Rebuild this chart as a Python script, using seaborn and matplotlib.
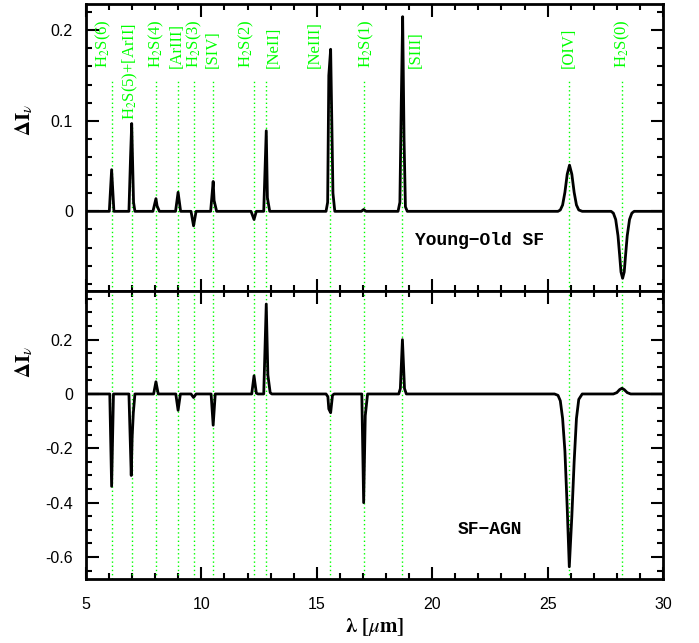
import matplotlib
matplotlib.use("Agg")
import matplotlib.pyplot as plt
import matplotlib.transforms as mtrans
from matplotlib.ticker import MultipleLocator, FormatStrFormatter
import seaborn as sns
import pandas as pd

# ---------------- data ----------------
line_names = [r"H$_2$S(6)", r"H$_2$S(5)+[ArII]", r"H$_2$S(4)", "[ArIII]", r"H$_2$S(3)",
              "[SIV]", r"H$_2$S(2)", "[NeII]", "[NeIII]", r"H$_2$S(1)", "[SIII]",
              "[OIV]", r"H$_2$S(0)"]
line_wl = [6.11, 6.98, 8.03, 8.99, 9.66, 10.51, 12.28, 12.81, 15.56, 17.03, 18.71, 25.93, 28.22]
label_x = [5.76, 6.92, 8.03, 8.92, 9.68, 10.50, 11.93, 13.15, 14.92, 17.13, 19.30, 25.93, 28.22]

wl_young_old = [5.0, 6.01, 6.11, 6.21, 6.86, 6.93, 6.98, 7.06, 7.12, 7.90, 8.03, 8.08, 8.18,
                8.88, 8.99, 9.10, 9.55, 9.66, 9.77, 10.40, 10.51, 10.55, 10.66,
                12.15, 12.28, 12.38, 12.70, 12.81, 12.86, 12.96,
                15.40, 15.47, 15.52, 15.60, 15.70, 15.78, 16.93, 17.03, 17.13,
                18.52, 18.60, 18.66, 18.72, 18.78, 18.84, 18.92,
                25.45, 25.55, 25.65, 25.75, 25.85, 25.95, 26.05, 26.15, 26.25, 26.35, 26.50,
                27.75, 27.85, 27.95, 28.05, 28.12, 28.18, 28.25, 28.32, 28.38, 28.45,
                28.55, 28.65, 28.75, 30.0]
dI_young_old = [0.0, 0.0, 0.046, 0.0, 0.0, 0.06, 0.097, 0.01, 0.0, 0.0, 0.014, 0.006, 0.0,
                0.0, 0.021, 0.0, 0.0, -0.016, 0.0, 0.0, 0.033, 0.012, 0.0,
                0.0, -0.009, 0.0, 0.0, 0.089, 0.015, 0.0,
                0.0, 0.01, 0.15, 0.179, 0.02, 0.0, 0.0, 0.002, 0.0,
                0.0, 0.01, 0.12, 0.215, 0.08, 0.005, 0.0,
                0.0, 0.0015, 0.007, 0.021, 0.041, 0.051, 0.041, 0.021, 0.007, 0.0015, 0.0,
                0.0, -0.002, -0.009, -0.027, -0.048, -0.067, -0.074, -0.067, -0.048, -0.027,
                -0.009, -0.002, 0.0, 0.0]

wl_sf_agn = [5.0, 6.03, 6.11, 6.19, 6.86, 6.96, 7.00, 7.05, 7.12, 7.93, 8.03, 8.13,
             8.89, 8.99, 9.09, 9.55, 9.66, 9.77, 10.42, 10.51, 10.60,
             12.18, 12.28, 12.38, 12.45, 12.70, 12.81, 12.88, 12.98, 13.05,
             15.40, 15.48, 15.52, 15.60, 15.68, 15.75,
             16.95, 17.03, 17.10, 17.20,
             18.55, 18.62, 18.71, 18.80, 18.88,
             25.30, 25.45, 25.55, 25.65, 25.75, 25.85, 25.94, 26.05, 26.15, 26.25, 26.35, 26.50,
             27.85, 28.00, 28.12, 28.22, 28.32, 28.45, 28.60, 30.0]
dI_sf_agn = [0.0, 0.0, -0.34, 0.0, 0.0, -0.30, -0.16, -0.07, 0.0, 0.0, 0.045, 0.0,
             0.0, -0.06, 0.0, 0.0, -0.013, 0.0, 0.0, -0.115, 0.0,
             0.0, 0.067, 0.003, 0.0, 0.0, 0.331, 0.07, 0.005, 0.0,
             0.0, -0.01, -0.055, -0.069, -0.005, 0.0,
             0.0, -0.40, -0.08, 0.0,
             0.0, 0.02, 0.20, 0.02, 0.0,
             0.0, -0.005, -0.025, -0.09, -0.21, -0.42, -0.636, -0.45, -0.25, -0.09, -0.02, 0.0,
             0.0, 0.005, 0.016, 0.021, 0.016, 0.005, 0.0, 0.0]

panel_titles = ["Young\u2212Old SF", "SF\u2212AGN"]

# ---------------- style ----------------
sns.set_style("ticks", {"axes.edgecolor": "black", "xtick.color": "black",
                        "ytick.color": "black", "text.color": "black",
                        "axes.labelcolor": "black"})
plt.rcParams["font.family"] = ["Liberation Sans", "DejaVu Sans"]
plt.rcParams["mathtext.fontset"] = "stix"
plt.rcParams["axes.unicode_minus"] = False

GREEN = "#00ff00"

fig = plt.figure(figsize=(6.99, 6.43), dpi=100)
ax1 = fig.add_axes([86 / 699, 1 - 291 / 643, 577 / 699, 287 / 643])
ax2 = fig.add_axes([86 / 699, 1 - 579 / 643, 577 / 699, 288 / 643], sharex=ax1)

df1 = pd.DataFrame({"wl": wl_young_old, "dI": dI_young_old})
df2 = pd.DataFrame({"wl": wl_sf_agn, "dI": dI_sf_agn})

# green dotted line markers
for i, wl in enumerate(line_wl):
    top_frac = 0.578 if i == 1 else 0.735
    ax1.axvline(wl, ymin=0, ymax=top_frac, color=GREEN, ls=(0, (1, 2)), lw=1.0, zorder=1)
    ax2.axvline(wl, color=GREEN, ls=(0, (1, 2)), lw=1.0, zorder=1)

sns.lineplot(data=df1, x="wl", y="dI", ax=ax1, color="black", lw=2, estimator=None, zorder=3)
sns.lineplot(data=df2, x="wl", y="dI", ax=ax2, color="black", lw=2, estimator=None, zorder=3)

# line labels
trans = mtrans.blended_transform_factory(ax1.transData, ax1.transAxes)
for i, (name, lx) in enumerate(zip(line_names, label_x)):
    yb = 0.596 if i == 1 else 0.777
    ax1.text(lx, yb, name, rotation=90, ha="center", va="bottom", color=GREEN,
             fontsize=12, family=["Liberation Serif", "DejaVu Serif"], transform=trans)

ax1.set_xlim(5, 30)
ax1.set_ylim(-0.088, 0.229)
ax2.set_ylim(-0.681, 0.379)

ax1.yaxis.set_major_locator(MultipleLocator(0.1))
ax1.yaxis.set_minor_locator(MultipleLocator(0.02))
ax2.yaxis.set_major_locator(MultipleLocator(0.2))
ax2.yaxis.set_minor_locator(MultipleLocator(0.05))
ax1.xaxis.set_major_locator(MultipleLocator(5))
ax1.xaxis.set_minor_locator(MultipleLocator(1))
ax1.yaxis.set_major_formatter(FormatStrFormatter("%g"))
ax2.yaxis.set_major_formatter(FormatStrFormatter("%g"))
ax2.xaxis.set_major_formatter(FormatStrFormatter("%g"))

for ax in (ax1, ax2):
    for sp in ax.spines.values():
        sp.set_visible(True)
        sp.set_linewidth(2)
        sp.set_color("black")
    ax.tick_params(which="both", direction="in", top=True, right=True, width=1.5,
                   labelsize=11.5, colors="black")
    ax.tick_params(axis="y", which="major", pad=9.5)
    ax.tick_params(axis="x", which="major", pad=13)
    ax.tick_params(which="major", length=9)
    ax.tick_params(which="minor", length=4.5)
    ax.set_xlabel("")
    ax.set_ylabel(r"$\mathbf{\Delta I}_{\nu}$", fontsize=15, rotation=90)

ax1.tick_params(labelbottom=False)
ax1.yaxis.set_label_coords(-0.088, 0.596)
ax2.yaxis.set_label_coords(-0.088, 0.753)

ax2.set_xlabel(r"$\mathbf{\lambda}\ \mathbf{[}\mu\mathbf{m]}$", fontsize=15, labelpad=3)

ax1.text(22.07, -0.032, panel_titles[0], ha="center", va="center", fontsize=13,
         fontweight="bold", family=["Liberation Mono", "DejaVu Sans Mono"])
ax2.text(22.5, -0.50, panel_titles[1], ha="center", va="center", fontsize=13,
         fontweight="bold", family=["Liberation Mono", "DejaVu Sans Mono"])

fig.savefig("out.png", dpi=100)
